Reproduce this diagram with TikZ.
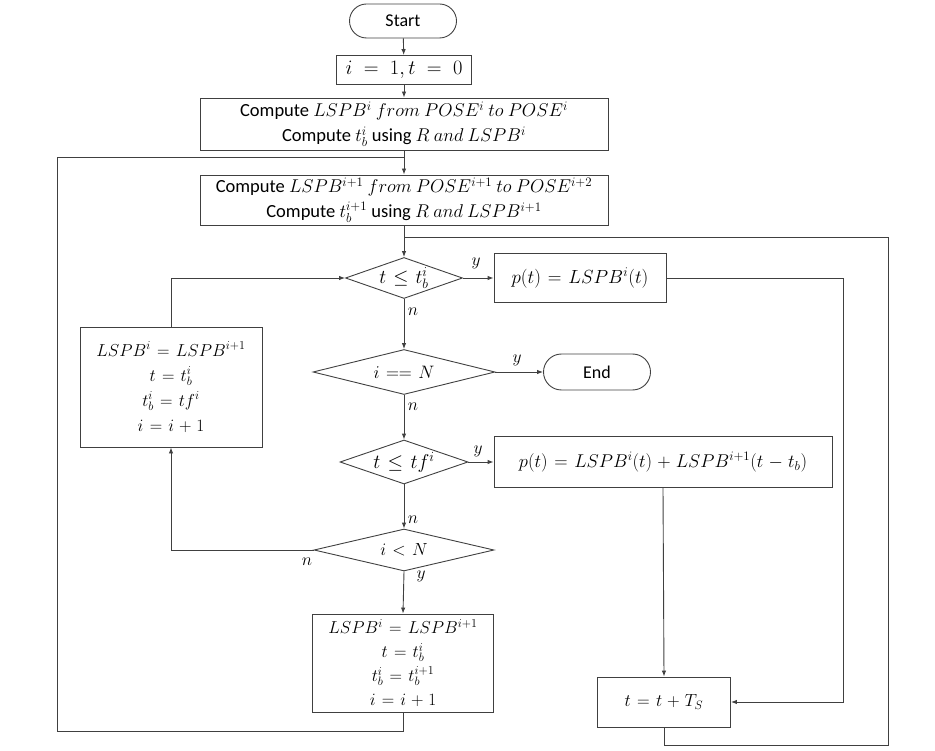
\RequirePackage{fix-cm}
\documentclass[tikz,border=0pt]{standalone}
\usepackage{fontspec}
\setmainfont{Carlito}
\usetikzlibrary{shapes.geometric,arrows.meta}
\thickmuskip=6.5mu plus 3mu
\medmuskip=5mu plus 2mu
\begin{document}
\begin{tikzpicture}[x=1pt,y=-1pt,
 line/.style={draw=black!75, line width=0.9pt},
 arr/.style={line, -{Latex[length=6pt,width=4.5pt]}},
 box/.style={line, rectangle, inner sep=0pt, align=center, font=\fontsize{19}{26}\selectfont},
 cbox/.style={box, font=\fontsize{18.5}{25}\selectfont},
 term/.style={box, rounded corners=17pt, font=\fontsize{18}{22}\selectfont},
 dec/.style={line, diamond, inner sep=0pt, font=\fontsize{19}{22}\selectfont},
 lab/.style={font=\fontsize{17.5}{20}\selectfont, inner sep=1pt}]
\useasboundingbox (0,0) rectangle (935,751);

\node[term, minimum width=107pt, minimum height=34pt] (start) at (403,21) {Start};
\node[box, minimum width=135pt, minimum height=29pt, font=\fontsize{20.5}{26}\selectfont] (init) at (404,70) {$\thickmuskip=10mu i=1,t=0$};
\node[cbox, minimum width=408pt, minimum height=52pt] (c1) at (404,124)
 {Compute $LSPB^i\ from\ POSE^i\ to\ POSE^i$\\Compute $t_b^i$ using $R\ and\ LSPB^i$};
\node[cbox, minimum width=408pt, minimum height=50pt] (c2) at (404,200)
 {Compute $LSPB^{i+1}\ from\ POSE^{i+1}\ to\ POSE^{i+2}$\\Compute $t_b^{i+1}$ using $R\ and\ LSPB^{i+1}$};
\node[dec, minimum width=117pt, minimum height=41pt, aspect=2.85, font=\fontsize{19.5}{22}\selectfont] (d1) at (404,278) {$t\le t_b^i$};
\node[box, minimum width=172pt, minimum height=49pt, font=\fontsize{19}{26}\selectfont] (p1) at (580,278) {$p(t)=LSPB^i(t)$};
\node[dec, minimum width=182pt, minimum height=45pt, aspect=4, font=\fontsize{18}{22}\selectfont] (d2) at (404,372) {$i==N$};
\node[term, minimum width=107pt, minimum height=36pt, rounded corners=18pt] (end) at (597,372) {End};
\node[dec, minimum width=128pt, minimum height=44pt, aspect=2.9, font=\fontsize{20}{22}\selectfont] (d3) at (404,462) {$t\le tf^i$};
\node[box, minimum width=338pt, minimum height=51pt, font=\fontsize{18.5}{26}\selectfont] (p2) at (663,462) {$p(t)=LSPB^i(t)+LSPB^{i+1}(t-t_b)$};
\node[dec, minimum width=180pt, minimum height=42pt, aspect=4.3, font=\fontsize{17.5}{22}\selectfont] (d4) at (404,550) {$i<N$};
\node[box, minimum width=182pt, minimum height=120pt, font=\fontsize{17.3}{25}\selectfont] (lb) at (171,387)
 {$LSPB^i=LSPB^{i+1}$\\$t=t_b^i$\\$t_b^i=tf^i$\\$i=i+1$};
\node[box, minimum width=181pt, minimum height=98pt, font=\fontsize{17.3}{24}\selectfont] (bb) at (403,663)
 {$LSPB^i=LSPB^{i+1}$\\$t=t_b^i$\\$t_b^i=t_b^{i+1}$\\$i=i+1$};
\node[box, minimum width=133pt, minimum height=50pt, font=\fontsize{17.5}{26}\selectfont] (ts) at (664,702) {$t=t+T_S$};

\coordinate (j1) at (404,157);
\coordinate (j2) at (404,237);

\draw[arr] (start) -- (init);
\draw[arr] (init) -- (c1);
\draw[arr] (c1) -- (c2);
\draw[line] (bb.south) |- (57,731) -- (57,157) -- (j1);
\draw[arr] (c2) -- (d1);
\draw[line] (ts.south) |- (888,745) -- (888,237) -- (j2);
\draw[arr] (d1.east) -- (p1.west);
\draw[arr] (p1.east) -| (843,702) -- (ts.east);
\draw[arr] (d1.south) -- (d2.north);
\draw[arr] (d2.east) -- (end.west);
\draw[arr] (d2.south) -- (d3.north);
\draw[arr] (d3.east) -- (p2.west);
\draw[arr] (p2.south) -- (ts.north);
\draw[arr] (d3.south) -- (d4.north);
\draw[arr] (d4.west) -| (lb.south);
\draw[arr] (lb.north) |- (d1.west);
\draw[arr] (d4.south) -- (bb.north);

\node[lab] (ly1) at (476,263) {$y$};
\node[lab] (ln1) at (413,312) {$n$};
\node[lab] (ly2) at (517,360) {$y$};
\node[lab] (ln2) at (413,407) {$n$};
\node[lab] (ly3) at (478,451) {$y$};
\node[lab] (ln3) at (413,520) {$n$};
\node[lab] (ln4) at (307,562) {$n$};
\node[lab] (ly4) at (421,576) {$y$};
\end{tikzpicture}
\end{document}
